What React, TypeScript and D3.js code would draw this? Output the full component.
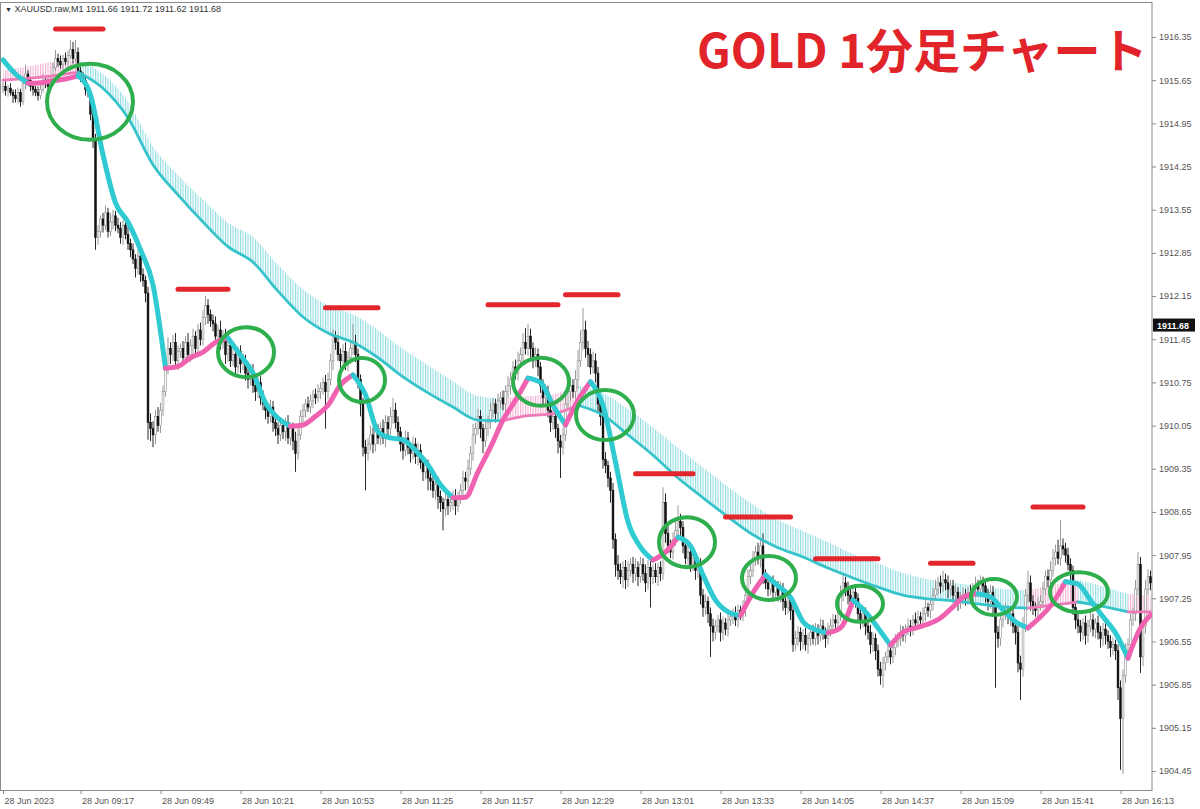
import React, { useRef, useEffect } from "react";
import * as d3 from "d3";

// XAUUSD M1, 28 Jun 2023 from 08:46. prices kept in cents above 1900.00
const firstOpen = 1550;
const closeCents = [
  1555,1548,1552,1545,1540,1535,1545,1530,1560,1575,1565,1555,1550,1545,1540,1550,1565,1560,1555,1565,
  1585,1600,1595,1590,1600,1595,1605,1615,1600,1610,1580,1570,1565,1550,1545,1510,1470,1310,1320,1340,
  1330,1350,1320,1335,1345,1330,1325,1310,1330,1315,1300,1290,1275,1260,1280,1250,1240,1220,1010,1000,
  990,1020,1005,1030,1060,1100,1130,1120,1140,1110,1125,1130,1115,1140,1120,1135,1150,1130,1160,1145,
  1180,1200,1185,1175,1170,1150,1160,1140,1150,1120,1135,1110,1120,1100,1125,1105,1110,1090,1080,1095,
  1070,1060,1075,1050,1040,1030,1020,1035,1010,1000,990,1005,995,1010,985,1000,980,960,990,1020,
  1030,1040,1035,1045,1055,1050,1060,1065,1075,1060,1080,1110,1150,1140,1120,1110,1125,1105,1115,1130,
  1140,1120,1080,1040,970,960,975,990,975,995,985,1000,985,1010,1000,1020,1030,1010,995,975,
  965,985,970,960,975,955,965,945,930,940,920,915,900,910,890,880,870,885,875,880,
  890,875,890,900,920,915,935,960,990,1000,1020,1000,980,1000,1010,1030,1040,1025,1045,1050,
  1040,1060,1070,1080,1100,1090,1110,1120,1140,1130,1150,1130,1110,1120,1100,1070,1050,1060,1030,1010,
  1020,1000,980,970,990,1040,1060,1070,1060,1080,1110,1140,1160,1130,1120,1100,1110,1090,1040,1020,
  950,940,920,900,820,780,770,760,775,755,770,780,765,775,760,780,765,750,775,760,
  770,760,775,765,880,830,810,800,820,835,850,840,810,790,800,780,790,770,780,730,
  710,720,700,680,670,680,690,670,685,675,690,695,700,690,705,700,710,730,760,770,
  790,800,790,810,760,750,740,750,735,745,730,740,720,710,725,705,650,660,670,655,
  665,650,660,670,660,675,665,680,670,660,675,680,690,685,700,730,750,740,730,720,
  735,725,700,690,700,680,670,650,660,640,610,600,620,630,640,630,645,655,660,670,
  665,675,680,675,690,685,695,690,700,710,705,715,730,740,750,745,755,750,740,745,
  730,735,720,725,730,725,735,730,740,745,740,750,745,730,720,735,715,670,660,690,
  700,705,695,700,680,670,620,610,680,730,750,720,710,705,715,720,740,760,755,770,
  790,800,790,810,805,795,780,770,710,690,680,670,685,665,680,690,675,685,670,660,
  675,665,655,645,650,640,580,530,600,640,650,690,700,740,780,630,680,740,760,750,
];
const hiWick = [
  8,10,6,8,5,10,8,6,12,15,6,5,8,6,10,8,10,6,8,7,
  8,14,8,10,6,10,8,15,12,20,8,6,8,5,6,5,6,8,10,6,
  10,12,8,15,10,8,12,10,8,10,12,8,10,8,12,15,10,8,10,15,
  12,10,15,12,10,12,18,10,12,15,10,8,12,10,15,10,12,8,10,12,
  12,15,10,8,10,12,8,15,10,12,8,10,12,15,8,10,12,10,8,10,
  10,12,8,10,12,10,8,12,10,15,10,12,10,8,12,10,10,15,12,10,
  10,8,12,10,8,10,12,10,8,12,10,12,10,8,12,10,12,15,10,12,
  30,12,10,8,10,12,10,15,12,10,12,10,15,12,10,15,20,12,10,8,
  10,12,10,8,12,10,12,10,8,12,10,12,10,8,12,10,8,12,10,12,
  10,12,8,10,12,10,15,12,18,10,12,10,8,12,10,12,10,8,12,10,
  12,10,15,12,10,12,15,12,15,23,20,12,10,12,10,8,10,12,10,8,
  10,12,8,10,12,15,10,12,10,15,18,20,36,15,12,10,15,12,10,8,
  10,12,8,10,12,10,15,12,10,12,15,10,12,15,10,12,10,15,12,10,
  10,12,8,10,25,15,12,10,12,15,26,12,10,8,10,12,10,8,12,10,
  10,12,8,10,12,10,8,12,10,8,12,10,8,12,10,8,12,10,12,10,
  12,10,15,12,20,12,10,8,12,10,8,12,10,8,12,10,10,12,10,8,
  10,12,8,10,12,10,8,12,10,8,10,12,10,8,12,16,16,10,12,10,
  10,12,8,10,12,10,8,12,10,8,10,12,10,8,12,10,8,12,10,12,
  10,8,12,10,8,12,10,8,10,12,8,10,12,15,10,12,15,10,12,10,
  10,12,8,10,12,10,8,12,10,15,10,12,10,8,10,12,10,8,10,12,
  10,12,8,10,12,8,10,12,15,10,20,12,10,8,12,10,12,10,12,15,
  15,12,20,42,12,10,12,10,8,10,12,10,8,12,10,12,10,8,12,10,
  10,12,8,10,12,8,10,12,10,12,10,12,10,15,20,12,10,15,12,10,
];
const loWick = [
  6,8,10,5,12,6,8,8,5,10,6,8,10,6,8,6,5,8,10,6,
  6,5,8,6,8,5,10,6,8,6,10,8,6,10,8,10,15,20,12,10,
  12,8,10,8,12,10,8,10,12,8,10,12,8,15,10,12,10,15,28,20,
  20,15,10,12,10,8,12,15,10,12,15,10,12,8,10,12,15,10,12,10,
  10,12,15,10,12,10,15,12,10,15,12,10,8,12,10,15,10,12,15,10,
  12,15,10,12,10,15,12,10,15,12,15,10,12,15,10,12,15,30,10,8,
  10,12,8,10,12,10,8,12,10,60,12,10,15,12,10,15,12,10,12,10,
  10,12,15,20,15,60,12,10,15,12,10,12,10,15,12,10,12,10,15,12,
  15,10,12,15,10,12,15,10,15,12,20,15,12,15,20,15,35,12,15,10,
  12,15,10,12,10,15,12,10,12,15,10,15,20,10,12,10,12,15,10,12,
  10,12,10,15,12,10,12,10,12,10,12,15,12,10,15,12,15,10,12,15,
  12,15,20,50,12,10,12,15,10,12,15,10,12,15,20,12,10,15,12,15,
  15,12,15,20,15,20,15,12,18,15,12,10,15,12,15,10,12,15,10,50,
  12,10,15,12,10,15,12,10,12,10,12,15,12,10,15,12,10,15,12,15,
  15,12,15,50,15,12,10,15,12,10,12,10,12,10,12,10,12,15,10,12,
  10,12,10,15,12,10,12,10,15,12,10,12,15,12,10,15,12,10,12,15,
  12,10,15,12,10,12,15,10,12,15,10,12,10,12,10,12,10,12,15,12,
  12,15,12,15,12,15,12,15,12,15,12,15,20,12,10,12,10,12,10,12,
  10,12,10,12,10,12,10,12,10,12,10,12,10,8,10,12,10,12,15,10,
  12,10,15,12,10,12,10,12,10,12,10,12,15,12,15,12,20,90,15,12,
  12,10,12,15,12,20,15,50,12,10,12,15,12,10,12,10,12,10,12,10,
  10,12,10,12,10,12,10,15,12,15,12,15,12,15,12,10,12,15,12,15,
  12,15,12,15,12,15,20,83,90,12,10,12,10,12,10,26,15,12,10,12,
];

// fast MA read every 5 bars (last at bar 459), slow MA and its band every 10 bars
const fastMA = [
  1598,1575,1560,1561,1564,1567,1572,1541,1444,1366,
  1335,1290,1233,1098,1101,1115,1124,1140,1147,1119,
  1090,1042,1017,1004,1006,1020,1038,1071,1087,1055,
  995,985,982,965,941,909,888,889,930,970,
  1014,1046,1082,1075,1038,1006,1046,1076,1038,946,
  849,808,787,800,824,810,763,722,703,697,
  734,763,745,727,687,674,669,677,722,703,
  677,649,670,677,683,693,711,729,732,727,
  706,687,677,695,718,752,748,722,695,669,
  628,677,698,
];
const slowMA = [
  1565,1568,1572,1578,1552,1504,1428,1379,1335,1295,
  1270,1223,1181,1155,1140,1115,1084,1058,1035,1014,
  1013,1021,1024,1038,1022,990,957,920,888,857,
  828,807,792,774,758,743,730,724,721,716,
  711,709,714,719,712,703,703,
];
const slowBand = [
  1581,1587,1595,1597,1575,1530,1457,1411,1371,1334,
  1311,1265,1226,1200,1185,1160,1129,1103,1077,1053,
  1049,1053,1056,1070,1058,1032,1002,969,937,906,
  877,852,834,816,797,782,766,756,750,745,
  740,738,746,755,744,732,729,
];

const yTicks = [1916.35,1915.65,1914.95,1914.25,1913.55,1912.85,1912.15,1911.45,1910.75,
  1910.05,1909.35,1908.65,1907.95,1907.25,1906.55,1905.85,1905.15,1904.45];
const xTickBars = [0,31,63,95,127,159,191,223,255,287,319,351,383,415,447];
const xTickLabels = ["28 Jun 2023","28 Jun 09:17","28 Jun 09:49","28 Jun 10:21","28 Jun 10:53",
  "28 Jun 11:25","28 Jun 11:57","28 Jun 12:29","28 Jun 13:01","28 Jun 13:33","28 Jun 14:05",
  "28 Jun 14:37","28 Jun 15:09","28 Jun 15:41","28 Jun 16:13"];
const lastPrice = 1911.68;
const header = "XAUUSD.raw,M1  1911.66 1911.72 1911.62 1911.68";

// red resistance marks and green circles (bar index, price)
const barFrom = [21,70,129,194,225,253,289,325,371,412];
const barTo = [40,90,150,222,246,276,315,350,388,432];
const barPrice = [1916.48,1912.26,1911.96,1912.01,1912.17,1909.27,1908.57,1907.89,1907.82,1908.73];
const ringBar = [34.8,97.2,143.6,215.2,240.8,273.6,306.4,342.8,396.4,430.4];
const ringPrice = [1915.3,1911.24,1910.79,1910.76,1910.22,1908.16,1907.58,1907.16,1907.27,1907.35];
const ringRx = [43,28,23,28,29,28,27,23,23,29];
const ringRy = [38,25,22,24,25,25,22,18,18,20];

const CYAN = "#2fcad2";
const PINK = "#f062b0";
const axisFont = "'Liberation Sans', Arial, sans-serif";

function runs(vals: number[]) {
  const out: { up: boolean; pts: number[] }[] = [];
  for (let k = 1; k < vals.length; k++) {
    const up = vals[k] >= vals[k - 1];
    const last = out[out.length - 1];
    if (last && last.up === up) last.pts.push(k);
    else out.push({ up, pts: [k - 1, k] });
  }
  return out;
}

export default function App() {
  const axisRef = useRef<SVGGElement>(null);
  const right = 1152;

  const x = d3.scaleLinear().domain([0, closeCents.length - 1]).range([3, 1150.5]);
  const y = d3.scaleLinear().domain([1904.45, 1916.35]).range([771, 37]);
  const yc = (c: number) => y(1900 + c / 100);

  const fastBars = d3.range(0, closeCents.length, 5).concat([closeCents.length - 1]);
  const slowBars = d3.range(0, closeCents.length, 10).concat([closeCents.length - 1]);

  const candles = closeCents.map((c, i) => {
    const o = i === 0 ? firstOpen : closeCents[i - 1];
    return { i, o, c, h: Math.max(o, c) + hiWick[i], l: Math.min(o, c) - loWick[i] };
  });

  const fastLine = (pts: number[]) =>
    d3.line<number>().x(k => x(fastBars[k])).y(k => yc(fastMA[k])).curve(d3.curveMonotoneX)(pts) || "";
  const slowLine = (pts: number[]) =>
    d3.line<number>().x(k => x(slowBars[k])).y(k => yc(slowMA[k])).curve(d3.curveMonotoneX)(pts) || "";
  const bandArea = (pts: number[]) =>
    d3.area<number>().x(k => x(slowBars[k])).y0(k => yc(slowMA[k])).y1(k => yc(slowBand[k]))
      .curve(d3.curveMonotoneX)(pts) || "";

  useEffect(() => {
    const g = d3.select(axisRef.current);
    g.selectAll("*").remove();

    const ya = g.append("g").attr("transform", `translate(${right},0)`)
      .call(d3.axisRight(y).tickValues(yTicks).tickFormat(d => (+d).toFixed(2)).tickSize(4).tickPadding(3));
    ya.select(".domain").remove();
    ya.selectAll("line").attr("stroke", "#888");
    ya.selectAll("text").attr("font-family", axisFont).attr("font-size", 9).attr("fill", "#555");

    const xa = g.append("g").attr("transform", "translate(0,790)")
      .call(d3.axisBottom(x).tickValues(xTickBars).tickFormat((d, k) => xTickLabels[k]).tickSize(4).tickPadding(2));
    xa.select(".domain").remove();
    xa.selectAll("line").attr("stroke", "#888");
    xa.selectAll("text").attr("font-family", axisFont).attr("font-size", 9).attr("fill", "#555")
      .attr("text-anchor", "start").attr("x", 1).attr("dy", "0.9em");

    const tag = g.append("g").attr("transform", `translate(${right + 1},${y(lastPrice)})`);
    tag.append("rect").attr("x", 0).attr("y", -6.5).attr("width", 42).attr("height", 13).attr("fill", "#111");
    tag.append("text").attr("x", 4).attr("y", 3.5).attr("font-family", axisFont).attr("font-size", 9)
      .attr("font-weight", 700).attr("fill", "#fff").text(lastPrice.toFixed(2));
  }, []);

  return (
    <svg width={1200} height={809} style={{ position: "absolute", left: 0, top: 0, background: "#fff" }}>
      <defs>
        <pattern id="hatchC" patternUnits="userSpaceOnUse" width={2.5} height={10}>
          <rect x={0} y={0} width={1.1} height={10} fill="#8fdbe1" />
        </pattern>
        <pattern id="hatchP" patternUnits="userSpaceOnUse" width={2.5} height={10}>
          <rect x={0} y={0} width={1.1} height={10} fill="#f4aed2" />
        </pattern>
        <clipPath id="plot"><rect x={1} y={3} width={right - 1} height={787} /></clipPath>
      </defs>
      <rect x={0.5} y={2.5} width={right - 0.5} height={788} fill="none" stroke="#8a8a8a" />

      <g clipPath="url(#plot)">
        {runs(slowMA).map((r, k) => (
          <path key={"b" + k} d={bandArea(r.pts)} fill={r.up ? "url(#hatchP)" : "url(#hatchC)"} />
        ))}
        {candles.map(d => {
          const bear = d.c < d.o;
          const cx = x(d.i);
          const top = yc(Math.max(d.o, d.c));
          const bot = yc(Math.min(d.o, d.c));
          const col = bear ? "#111" : "#8e8e8e";
          return (
            <g key={d.i}>
              <line x1={cx} x2={cx} y1={yc(d.h)} y2={yc(d.l)} stroke={col} strokeWidth={0.9} />
              <rect x={cx - 0.9} y={top} width={1.8} height={Math.max(1, bot - top)}
                fill={bear ? "#111" : "#fff"} stroke={col} strokeWidth={0.6} />
            </g>
          );
        })}
        {runs(slowMA).map((r, k) => (
          <path key={"s" + k} d={slowLine(r.pts)} fill="none" stroke={r.up ? "#ef7ab8" : "#36c4ca"}
            strokeWidth={2.8} strokeLinecap="round" />
        ))}
        {runs(fastMA).map((r, k) => (
          <path key={"f" + k} d={fastLine(r.pts)} fill="none" stroke={r.up ? PINK : CYAN}
            strokeWidth={5} strokeLinecap="round" strokeLinejoin="round" />
        ))}
        {barPrice.map((p, k) => (
          <line key={"r" + k} x1={x(barFrom[k])} x2={x(barTo[k])} y1={y(p)} y2={y(p)}
            stroke="#e2262b" strokeWidth={5} strokeLinecap="round" />
        ))}
        {ringPrice.map((p, k) => (
          <ellipse key={"c" + k} cx={x(ringBar[k])} cy={y(p)} rx={ringRx[k]} ry={ringRy[k]}
            fill="none" stroke="#2fae4e" strokeWidth={4} />
        ))}
      </g>

      <text x={5} y={12} fontFamily={axisFont} fontSize={9} fill="#333">
        <tspan fontSize={7}>▼</tspan> {header}
      </text>
      <text x={697} y={68} fontFamily="'Noto Sans CJK JP', sans-serif" fontWeight={700} fontSize={47}
        fill="#e1242a">GOLD 1分足チャート</text>
      <g ref={axisRef} />
    </svg>
  );
}
